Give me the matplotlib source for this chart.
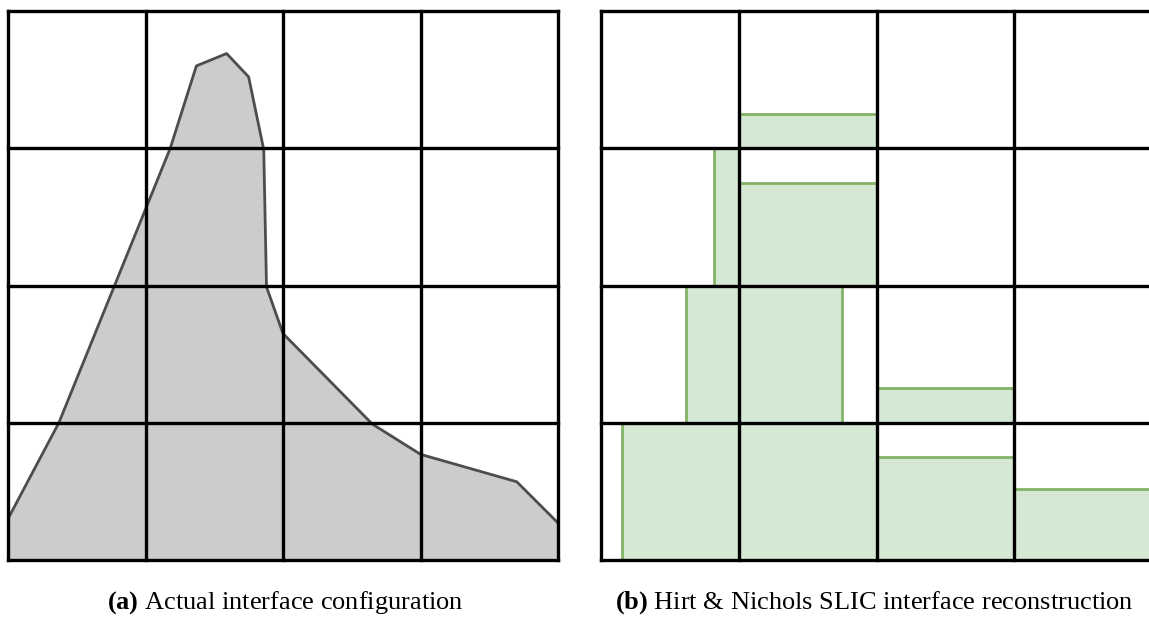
import numpy as np
import matplotlib.pyplot as plt
from matplotlib.patches import Rectangle

plt.rcParams['font.family'] = ['Liberation Serif', 'DejaVu Serif']
plt.rcParams['mathtext.fontset'] = 'custom'
plt.rcParams['mathtext.rm'] = 'Liberation Serif'
plt.rcParams['mathtext.bf'] = 'Liberation Serif:bold'

# 4x4 mesh, cell units
n_cells = 4

# actual interface polyline (fluid lies below it)
interface_x = [0.0, 0.37, 1.18, 1.37, 1.59, 1.75, 1.86, 1.88, 2.0, 2.65, 3.0, 3.70, 4.0]
interface_y = [0.30, 1.0, 3.0, 3.60, 3.69, 3.52, 2.99, 1.99, 1.65, 0.99, 0.77, 0.57, 0.27]

# SLIC reconstruction: cell index, volume fraction and the side the fluid is pushed to
cell_col = [1, 0, 1, 0, 1, 2, 0, 1, 2, 3]
cell_row = [3, 2, 2, 1, 1, 1, 0, 0, 0, 0]
cell_frac = [0.25, 0.18, 0.75, 0.38, 0.75, 0.25, 0.85, 1.0, 0.75, 0.52]
cell_side = ['bottom', 'right', 'bottom', 'right', 'left', 'bottom',
             'right', 'bottom', 'bottom', 'bottom']

captions = [r'$\mathbf{(a)}$ Actual interface configuration',
            r'$\mathbf{(b)}$ Hirt & Nichols SLIC interface reconstruction']

W, H = 1149, 617
fig = plt.figure(figsize=(W / 100, H / 100), dpi=100)

grid_lw = 2.4


def draw_mesh(ax):
    for k in range(n_cells + 1):
        ax.plot([k, k], [0, n_cells], color='black', lw=grid_lw, clip_on=False,
                zorder=5, solid_capstyle='projecting')
        ax.plot([0, n_cells], [k, k], color='black', lw=grid_lw, clip_on=False,
                zorder=5, solid_capstyle='projecting')
    ax.set_xlim(0, n_cells)
    ax.set_ylim(0, n_cells)
    ax.axis('off')


ax1 = fig.add_axes([8 / W, (H - 560) / H, 550 / W, 549 / H])
ax1.fill_between(interface_x, 0, interface_y, color='#cccccc', lw=0, zorder=1)
ax1.plot(interface_x, interface_y, color='#4d4d4d', lw=2.0, zorder=2)
draw_mesh(ax1)

ax2 = fig.add_axes([601 / W, (H - 560) / H, 551 / W, 549 / H])
for c, r, f, s in zip(cell_col, cell_row, cell_frac, cell_side):
    if s == 'bottom':
        x0, y0, w, h = c, r, 1, f
    elif s == 'left':
        x0, y0, w, h = c, r, f, 1
    else:
        x0, y0, w, h = c + 1 - f, r, f, 1
    ax2.add_patch(Rectangle((x0, y0), w, h, facecolor='#d5e8d4',
                            edgecolor='#82b366', lw=2.0, zorder=2))
draw_mesh(ax2)

fig.text(285 / W, (H - 603) / H, captions[0], ha='center', va='center', fontsize=19)
fig.text(874 / W, (H - 603) / H, captions[1], ha='center', va='center', fontsize=19)

fig.savefig('out.png', dpi=100, facecolor='white')
